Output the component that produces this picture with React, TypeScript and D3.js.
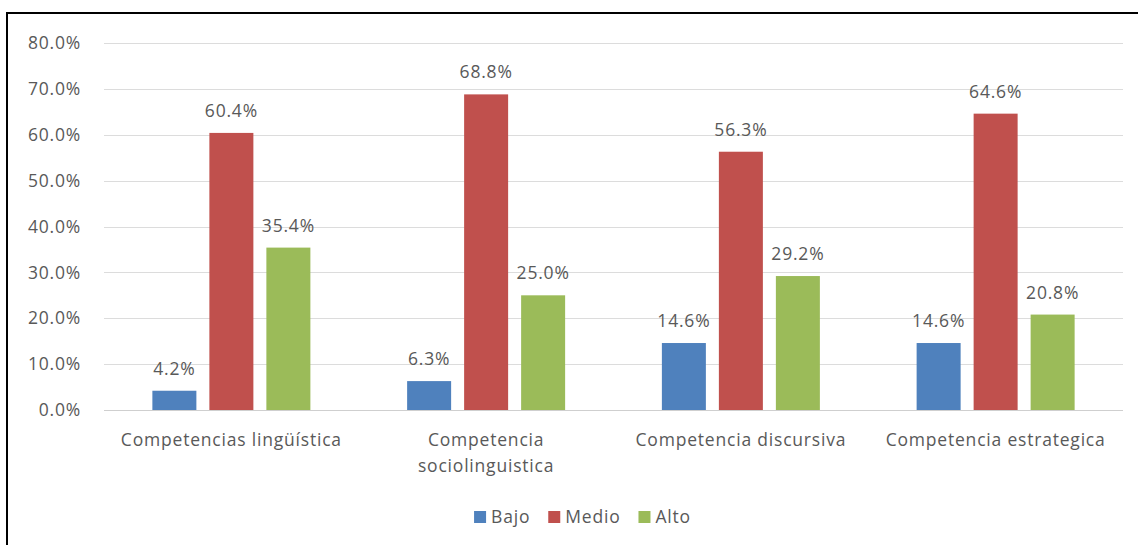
import React, { useEffect, useRef } from "react";
import * as d3 from "d3";

const categories = [
  "Competencias lingüística",
  "Competencia sociolinguistica",
  "Competencia discursiva",
  "Competencia estrategica",
];
const categoryLines = [
  ["Competencias lingüística"],
  ["Competencia", "sociolinguistica"],
  ["Competencia discursiva"],
  ["Competencia estrategica"],
];
const seriesNames = ["Bajo", "Medio", "Alto"];
const bajo = [4.2, 6.3, 14.6, 14.6];
const medio = [60.4, 68.8, 56.3, 64.6];
const alto = [35.4, 25.0, 29.2, 20.8];
const seriesValues = [bajo, medio, alto];
const colors = ["#4F81BD", "#C0504D", "#9BBB59"];
const yTicks = [0, 10, 20, 30, 40, 50, 60, 70, 80];

const W = 1138;
const H = 545;
const FONT = "'Open Sans', 'Noto Sans', sans-serif";
const FS = 17.5;
const LS = 0.8;
const TEXT = "#595959";

export default function App() {
  const ref = useRef<SVGSVGElement>(null);

  useEffect(() => {
    const svg = d3.select(ref.current);
    svg.selectAll("*").remove();

    const plotL = 104, plotR = 1123, plotT = 43, plotB = 410;
    const y = d3.scaleLinear().domain([0, 80]).range([plotB, plotT]);
    const x0 = d3.scaleBand<string>().domain(categories).range([plotL, plotR]).padding(0);
    const groupW = 158;
    const x1 = d3
      .scaleBand<string>()
      .domain(seriesNames)
      .range([(x0.bandwidth() - groupW) / 2, (x0.bandwidth() + groupW) / 2])
      .paddingInner(13 / 57)
      .paddingOuter(0);

    const txt = (sel: any) =>
      sel
        .attr("font-family", FONT)
        .attr("font-size", FS)
        .attr("letter-spacing", LS)
        .attr("fill", TEXT);

    svg.append("rect").attr("x", 0).attr("y", 0).attr("width", W).attr("height", H).attr("fill", "#fff");

    // gridlines
    svg
      .append("g")
      .selectAll("line")
      .data(yTicks)
      .join("line")
      .attr("x1", plotL)
      .attr("x2", plotR)
      .attr("y1", (d) => Math.round(y(d)) + 0.5)
      .attr("y2", (d) => Math.round(y(d)) + 0.5)
      .attr("stroke", (d) => (d === 0 ? "#cfcfcf" : "#dcdcdc"))
      .attr("stroke-width", 1);

    // y labels
    svg
      .append("g")
      .selectAll("text")
      .data(yTicks)
      .join("text")
      .attr("x", 81)
      .attr("y", (d) => y(d))
      .attr("dy", "0.35em")
      .attr("text-anchor", "end")
      .call(txt)
      .text((d) => d.toFixed(1) + "%");

    // bars
    const groups = svg
      .append("g")
      .selectAll("g")
      .data(categories)
      .join("g")
      .attr("transform", (c) => `translate(${x0(c)},0)`);

    seriesNames.forEach((s, si) => {
      groups
        .append("rect")
        .attr("x", x1(s)!)
        .attr("width", x1.bandwidth())
        .attr("y", (c, ci) => y(seriesValues[si][ci]))
        .attr("height", (c, ci) => plotB - y(seriesValues[si][ci]))
        .attr("fill", colors[si]);
      groups
        .append("text")
        .attr("x", x1(s)! + x1.bandwidth() / 2)
        .attr("y", (c, ci) => y(seriesValues[si][ci]) - 16)
        .attr("text-anchor", "middle")
        .call(txt)
        .text((c, ci) => seriesValues[si][ci].toFixed(1) + "%");
    });

    // x labels
    categories.forEach((c, ci) => {
      const t = svg.append("text").attr("text-anchor", "middle").call(txt);
      categoryLines[ci].forEach((line, li) => {
        t.append("tspan")
          .attr("x", x0(c)! + x0.bandwidth() / 2)
          .attr("y", 446 + li * 26)
          .text(line);
      });
    });

    // legend
    const lg = svg.append("g");
    let cx = 0;
    seriesNames.forEach((s, si) => {
      const g = lg.append("g").attr("transform", `translate(${cx},0)`);
      g.append("rect").attr("x", 0).attr("y", -12).attr("width", 12).attr("height", 12).attr("fill", colors[si]);
      const t = g.append("text").attr("x", 17).attr("y", 0).call(txt).text(s);
      const w = (t.node() as SVGTextElement).getComputedTextLength();
      cx += 17 + w + 18;
    });
    const totalW = cx - 18;
    lg.attr("transform", `translate(${(471 + 694) / 2 - totalW / 2},523)`);

    // border
    svg
      .append("path")
      .attr("d", `M7,${H + 2} V13 H${W + 2}`)
      .attr("fill", "none")
      .attr("stroke", "#000")
      .attr("stroke-width", 2);
  }, []);

  return (
    <svg
      ref={ref}
      width={W}
      height={H}
      style={{ position: "absolute", left: 0, top: 0, display: "block" }}
    />
  );
}
